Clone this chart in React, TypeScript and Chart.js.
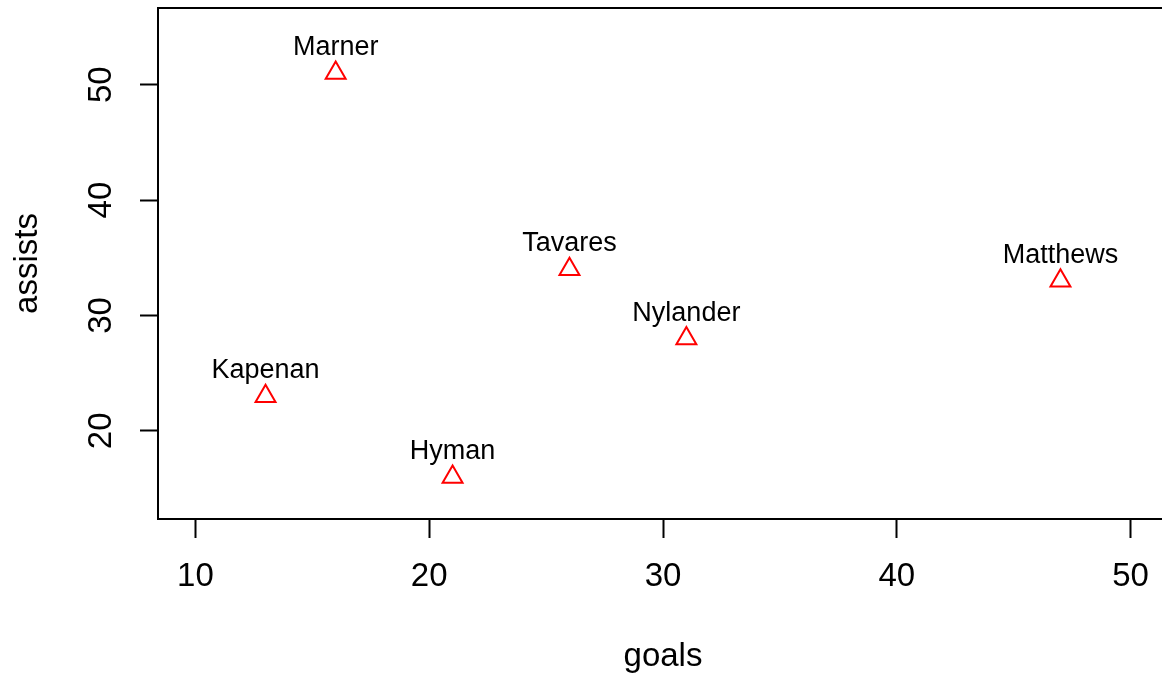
import React, { useEffect, useRef } from "react";
import { Chart, registerables } from "chart.js";

Chart.register(...registerables);

const players = ["Marner", "Tavares", "Matthews", "Nylander", "Kapenan", "Hyman"];
const goals = [16, 26, 47, 31, 13, 21];
const assists = [51, 34, 33, 28, 23, 16];
const xTicks = [10, 20, 30, 40, 50];
const yTicks = [20, 30, 40, 50];

const FONT = "'Liberation Sans', Arial, Helvetica, sans-serif";

export default function App() {
  const ref = useRef<HTMLCanvasElement | null>(null);

  useEffect(() => {
    const canvas = ref.current;
    if (!canvas) return;

    const boxPlugin = {
      id: "boxPlugin",
      afterDraw(chart: any) {
        const { ctx, chartArea } = chart;
        ctx.save();
        ctx.strokeStyle = "#000";
        ctx.lineWidth = 2;
        ctx.strokeRect(chartArea.left, chartArea.top, chartArea.right - chartArea.left, chartArea.bottom - chartArea.top);
        // y tick labels, rotated like R
        const ys = chart.scales.y;
        ctx.fillStyle = "#000";
        ctx.font = `33px ${FONT}`;
        ctx.textAlign = "center";
        ctx.textBaseline = "middle";
        ys.ticks.forEach((t: any) => {
          const py = ys.getPixelForValue(t.value);
          ctx.save();
          ctx.translate(102, py);
          ctx.rotate(-Math.PI / 2);
          ctx.fillText(String(t.value), 0, 0);
          ctx.restore();
        });
        ctx.restore();
      },
      afterDatasetsDraw(chart: any) {
        const { ctx } = chart;
        const meta = chart.getDatasetMeta(0);
        ctx.save();
        ctx.fillStyle = "#000";
        ctx.font = `27px ${FONT}`;
        ctx.textAlign = "center";
        ctx.textBaseline = "alphabetic";
        meta.data.forEach((el: any, i: number) => {
          ctx.fillText(players[i], el.x, el.y - 18);
        });
        ctx.restore();
      },
    };

    const chart = new Chart(canvas, {
      type: "scatter",
      data: {
        datasets: [
          {
            data: goals.map((g, i) => ({ x: g, y: assists[i] })),
            pointStyle: "triangle",
            pointRadius: 11.5,
            pointHoverRadius: 11.5,
            borderColor: "#ff0000",
            backgroundColor: "rgba(0,0,0,0)",
            pointBorderWidth: 2,
            borderWidth: 2,
          },
        ],
      },
      options: {
        responsive: false,
        animation: false,
        events: [],
        layout: { autoPadding: false, padding: { left: 0, top: 8, right: 4, bottom: 0 } },
        plugins: { legend: { display: false }, tooltip: { enabled: false } },
        scales: {
          x: {
            type: "linear",
            min: 8.4,
            max: 51.6,
            afterBuildTicks: (s: any) => {
              s.ticks = xTicks.map((v) => ({ value: v }));
            },
            afterFit: (s: any) => {
              s.height = 154;
              s.paddingLeft = 0;
              s.paddingRight = 0;
              s.paddingTop = 0;
              s.paddingBottom = 0;
            },
            grid: {
              display: true,
              drawOnChartArea: false,
              drawTicks: true,
              tickLength: 19,
              tickWidth: 2,
              tickColor: "#000",
            },
            border: { display: true, color: "#000", width: 2 },
            ticks: {
              color: "#000",
              font: { family: FONT, size: 33 },
              padding: 19,
              maxRotation: 0,
              minRotation: 0,
            },
            title: {
              display: true,
              text: "goals",
              color: "#000",
              font: { family: FONT, size: 33, lineHeight: 1.0 },
              padding: { top: 0, bottom: 0 },
            },
          },
          y: {
            type: "linear",
            min: 12.36,
            max: 56.64,
            afterBuildTicks: (s: any) => {
              s.ticks = yTicks.map((v) => ({ value: v }));
            },
            afterFit: (s: any) => {
              s.width = 158;
              s.paddingLeft = 0;
              s.paddingRight = 0;
              s.paddingTop = 0;
              s.paddingBottom = 0;
            },
            grid: {
              display: true,
              drawOnChartArea: false,
              drawTicks: true,
              tickLength: 18,
              tickWidth: 2,
              tickColor: "#000",
            },
            border: { display: true, color: "#000", width: 2 },
            ticks: { display: false },
            title: {
              display: true,
              text: "assists",
              color: "#000",
              font: { family: FONT, size: 33 },
              padding: { top: 8, bottom: 0 },
            },
          },
        },
      },
      plugins: [boxPlugin],
    });

    return () => chart.destroy();
  }, []);

  return (
    <div
      style={{
        position: "fixed",
        left: 0,
        top: 0,
        width: 1162,
        height: 673,
        overflow: "hidden",
        background: "#fff",
      }}
    >
      <canvas ref={ref} width={1172} height={673} style={{ width: 1172, height: 673, display: "block" }} />
    </div>
  );
}
